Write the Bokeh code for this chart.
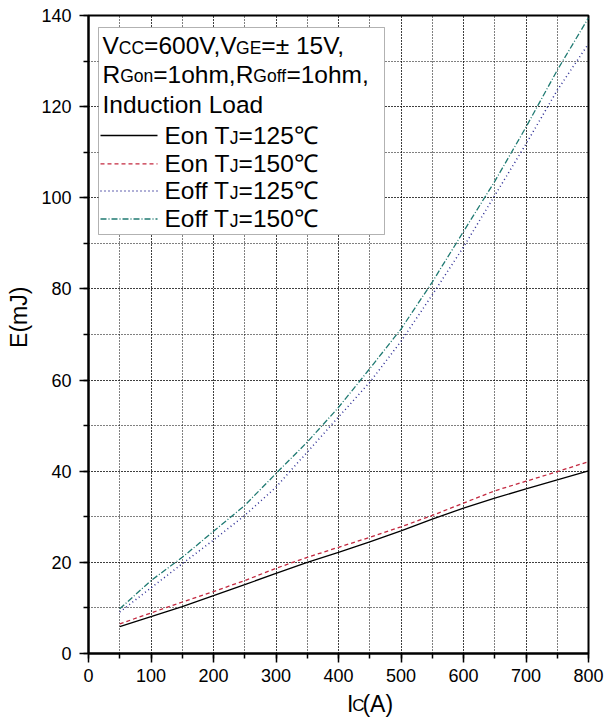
from bokeh.plotting import figure
from bokeh.layouts import column
from bokeh.models import Range1d, Label, BoxAnnotation, FixedTicker
from bokeh.embed import file_html
from bokeh.resources import INLINE

# ---------------- data ----------------
ic = [50, 100, 150, 200, 250, 300, 350, 400, 450, 500, 550, 600, 650, 700, 750, 800]
eon_125 = [5.9, 8.1, 10.3, 12.7, 15.1, 17.6, 20.0, 22.2, 24.5, 26.9, 29.5, 31.9, 34.1, 36.1, 38.1, 40.1]
eon_150 = [6.5, 8.9, 11.3, 13.6, 16.0, 18.7, 21.1, 23.3, 25.5, 27.8, 30.3, 33.0, 35.7, 37.8, 39.9, 42.1]
eoff_125 = [9.1, 14.4, 19.7, 24.9, 30.3, 36.5, 44.2, 51.9, 59.5, 68.5, 78.7, 89.2, 100.5, 111.8, 123.6, 133.8]
eoff_150 = [9.8, 16.0, 21.1, 26.8, 32.5, 39.5, 46.4, 54.0, 62.5, 71.2, 81.5, 92.6, 103.6, 115.5, 128.0, 139.5]

x_major = [0, 100, 200, 300, 400, 500, 600, 700, 800]
x_minor = [0, 50, 100, 150, 200, 250, 300, 350, 400, 450, 500, 550, 600, 650, 700, 750, 800]
y_major = [0, 20, 40, 60, 80, 100, 120, 140]
y_minor = [0, 10, 20, 30, 40, 50, 60, 70, 80, 90, 100, 110, 120, 130, 140]

series_labels = ["Eon", "Eon", "Eoff", "Eoff"]
series_temps = ["125", "150", "125", "150"]

# ---------------- layout (canvas pixels) ----------------
FIG_W = 606
MAIN_H, TITLE_H = 692, 28
PL, PR, PT, PB = 88, 588, 15, 653   # frame edges
X0, X1, Y0, Y1 = 0, 800, 0, 140

def dx(px):
    return X0 + (px - PL) / (PR - PL) * (X1 - X0)

def dy(py):
    return Y0 + (PB - py) / (PB - PT) * (Y1 - Y0)

# Liberation Sans advance widths (1/1000 em)
AW = {'V': 667, 'C': 722, '=': 584, '6': 556, '0': 556, ',': 278, 'G': 778, 'E': 667,
      '±': 549, ' ': 278, '1': 556, '5': 556, 'R': 722, 'o': 556, 'n': 556, 'h': 556,
      'm': 833, 'f': 278, 'I': 278, 'd': 556, 'u': 556, 'c': 500, 't': 278, 'i': 222,
      'L': 556, 'a': 556, 'T': 611, 'J': 500, '2': 556, 'A': 667, '(': 333, ')': 333}
KERN = {('V', ','): -111, ('1', '1'): -74}

def tw(s, size):
    w = sum(AW.get(c, 600) for c in s)
    w += sum(KERN.get((a, b), 0) for a, b in zip(s, s[1:]))
    return w / 1000.0 * size

FONT = "Liberation Sans"
MID = 0.346   # (ascent - descent)/2 for Liberation Sans

p = figure(width=FIG_W, height=MAIN_H,
           x_range=Range1d(X0, X1), y_range=Range1d(Y0, Y1),
           output_backend="svg", toolbar_location=None,
           min_border_left=PL, min_border_right=FIG_W - PR,
           min_border_top=PT, min_border_bottom=MAIN_H - PB)

p.background_fill_color = "white"
p.border_fill_color = "white"
p.outline_line_color = "black"
p.outline_line_width = 2
p.outline_line_alpha = 1

p.xaxis.ticker = FixedTicker(ticks=x_major, minor_ticks=x_minor)
p.yaxis.ticker = FixedTicker(ticks=y_major, minor_ticks=y_minor)
for ax in (p.xaxis, p.yaxis):
    ax.axis_line_width = 2
    ax.axis_line_color = "black"
    ax.major_tick_in = 0
    ax.major_tick_out = 9
    ax.minor_tick_in = 0
    ax.minor_tick_out = 5
    ax.major_tick_line_width = 1.5
    ax.minor_tick_line_width = 1.5
    ax.major_tick_line_color = "black"
    ax.minor_tick_line_color = "black"
    ax.major_label_text_font = FONT
    ax.major_label_text_font_size = "18px"
    ax.major_label_text_color = "black"
p.xaxis.major_label_standoff = 6
p.yaxis.major_label_standoff = 8

p.yaxis.axis_label = "\u2003\u2002E(mJ)"
p.yaxis.axis_label_text_font = FONT
p.yaxis.axis_label_text_font_size = "23px"
p.yaxis.axis_label_text_font_style = "normal"
p.yaxis.axis_label_text_color = "black"
p.yaxis.axis_label_standoff = 6

for g in (p.xgrid, p.ygrid):
    g.grid_line_color = "black"
    g.grid_line_dash = "1 2"
    g.grid_line_alpha = 1
    g.grid_line_width = 1
    g.minor_grid_line_color = "black"
    g.minor_grid_line_dash = "1 2"
    g.minor_grid_line_alpha = 1
    g.minor_grid_line_width = 1

# ---------------- curves ----------------
styles = [
    dict(line_color="black", line_width=1.3),
    dict(line_color="#c3283f", line_width=1.3, line_dash="4 3"),
    dict(line_color="#2e2e96", line_width=1.5, line_dash="1 3"),
    dict(line_color="#1f7a72", line_width=1.3, line_dash="6 2 1 2"),
]
for ys, st in zip([eon_125, eon_150, eoff_125, eoff_150], styles):
    p.line(ic, ys, **st)

# ---------------- legend box ----------------
p.add_layout(BoxAnnotation(left=dx(98), right=dx(384), top=dy(27), bottom=dy(234),
                           fill_color="white", fill_alpha=1, line_color="black",
                           line_width=1, level="underlay"))

BIG, SMALL = 24.5, 17.5

def pieces(fig, fx, fy, items, px, base):
    x = px
    for text, size, font in items:
        fig.add_layout(Label(x=fx(x), y=fy(base - MID * size), text=text, text_font=font,
                             text_font_size=f"{size}px", text_color="black",
                             text_align="left", text_baseline="middle"))
        x += tw(text, size)

baselines = [53.3, 82.0, 112.0, 143.3, 171.7, 198.5, 226.7]
centers = [45, 74, 104, 135, 163.3, 190.5, 218.5]

pieces(p, dx, dy, [("V", BIG, FONT), ("CC", SMALL, FONT), ("=600V,V", BIG, FONT),
                   ("GE", SMALL, FONT), ("=± 15V,", BIG, FONT)], 102, baselines[0])
pieces(p, dx, dy, [("R", BIG, FONT), ("Gon", SMALL, FONT), ("=1ohm,R", BIG, FONT),
                   ("Goff", SMALL, FONT), ("=1ohm,", BIG, FONT)], 102, baselines[1])
pieces(p, dx, dy, [("Induction Load", BIG, FONT)], 102, baselines[2])

for i, (lab, temp, st) in enumerate(zip(series_labels, series_temps, styles)):
    yc = centers[3 + i]
    p.segment(x0=[dx(100)], y0=[dy(yc)], x1=[dx(157)], y1=[dy(yc)], **st)
    pieces(p, dx, dy, [(lab + " T", BIG, FONT), ("J", SMALL, FONT),
                       ("=" + temp + "℃", BIG, FONT)], 164, baselines[3 + i])

# ---------------- x axis title (strip below the chart) ----------------
t = figure(width=FIG_W, height=TITLE_H, x_range=Range1d(0, FIG_W), y_range=Range1d(0, TITLE_H),
           output_backend="svg", toolbar_location=None, x_axis_type=None, y_axis_type=None,
           min_border_left=0, min_border_right=0, min_border_top=0, min_border_bottom=0)
t.outline_line_color = None
t.background_fill_color = "white"
t.border_fill_color = "white"

def tx(px):
    return px

def ty(py):
    return MAIN_H + TITLE_H - py

xt = [("I", 23, FONT), ("C", 17, FONT), ("(A)", 23, FONT)]
total = sum(tw(s_, z) for s_, z, f in xt)
pieces(t, tx, ty, xt, (PL + PR) / 2 - total / 2, 711)

layout = column(p, t, spacing=0)
open("out.html", "w").write(file_html(layout, INLINE))
